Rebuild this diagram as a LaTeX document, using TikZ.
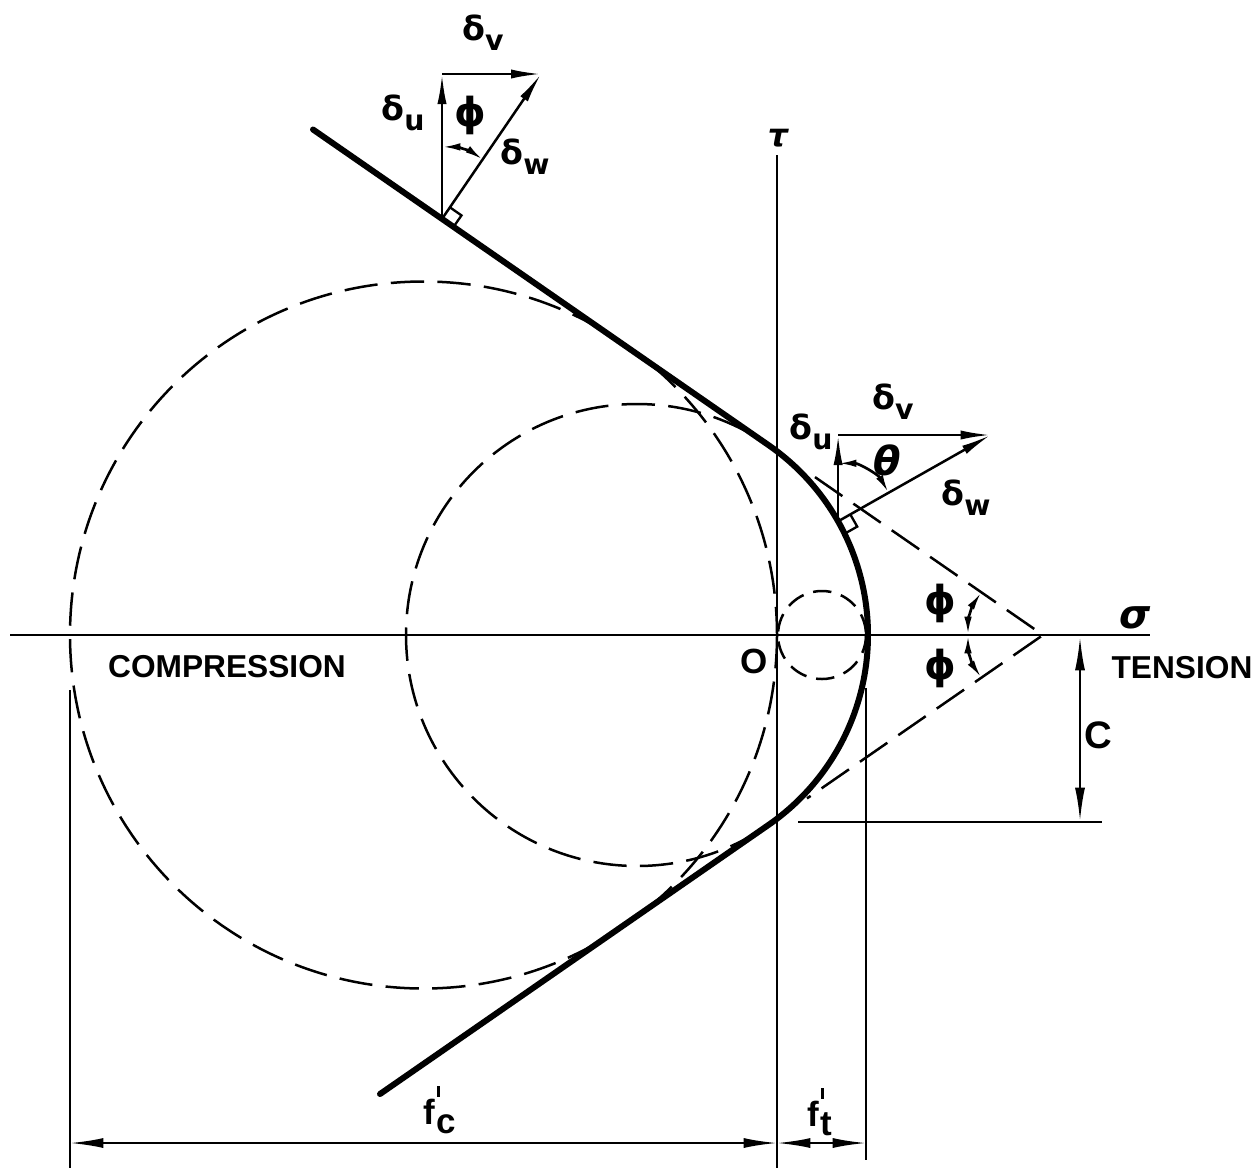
\documentclass[tikz,border=0pt]{standalone}
\usepackage{fontspec}
\setmainfont{Liberation Sans}
\newfontfamily\gk{DejaVu Sans}
\usetikzlibrary{arrows.meta,calc}
\newcommand\subl[1]{\raisebox{-0.3em}{\bfseries\fontsize{17}{17}\selectfont #1}}
\newcommand\primed[2]{#1\kern1pt\rlap{\raisebox{0.8em}{\rule{1.8pt}{6.5pt}}}\raisebox{-0.25em}{#2}}
\begin{document}
\begin{tikzpicture}[x=0.6pt,y=-0.6pt,
  env/.style={line width=3.6pt, line cap=round},
  ax/.style={line width=1.6pt},
  dsh/.style={line width=1.5pt, dash pattern=on 20pt off 8pt},
  dshs/.style={line width=1.5pt, dash pattern=on 11pt off 6pt},
  vec/.style={line width=1.5pt, -{Latex[length=18pt,width=5.5pt]}},
  dimarr/.style={line width=1.3pt, {Latex[length=20pt,width=6pt]}-{Latex[length=20pt,width=6pt]}},
  angarr/.style={line width=1.6pt, {Latex[length=11pt,width=4.5pt]}-{Latex[length=11pt,width=4.5pt]}},
  word/.style={font=\bfseries\fontsize{19}{19}\selectfont, inner sep=0pt},
  dl/.style={font=\gk\bfseries\fontsize{20}{20}\selectfont, inner sep=0pt},
  gl/.style={font=\gk\bfseries\fontsize{24}{24}\selectfont, inner sep=0pt}
]
\useasboundingbox (0,0) rectangle (1260,1173);
% key points
\coordinate (O) at (777,635);
\coordinate (V) at (1043,635);
\coordinate (CL) at (423.5,635);
\coordinate (CM) at (637,635);
\coordinate (CS) at (822,635);
\coordinate (A1) at (313,129.5);
\coordinate (T1) at (768.5,445.1);
\coordinate (A2) at (380,1094);
% axes
\coordinate (sx0) at (10,635);
\coordinate (sx1) at (1150,635);
\coordinate (tx0) at (777,155);
\coordinate (tx1) at (777,1168);
\draw[ax] (sx0) -- (sx1);
\draw[ax] (tx0) -- (tx1);
% dashed circles
\draw[dsh] (CL) circle[radius=353.5];
\draw[dsh] (CM) circle[radius=231];
\draw[dshs] (CS) circle[radius=44];
% dashed lines to V
\coordinate (D1) at (815,477.1);
\coordinate (D2) at (807,798.4);
\draw[dsh] (D1) -- (V) -- (D2);
% envelope
\draw[env] (A1) -- (T1) arc[start angle=-55.3, end angle=55.3, radius=231] -- (A2);
% C dimension
\coordinate (H0) at (798,822);
\coordinate (H1) at (1102,822);
\coordinate (C0) at (1080,637);
\coordinate (C1) at (1080,821);
\draw[ax] (H0) -- (H1);
\draw[dimarr] (C0) -- (C1);
% bottom dimensions
\coordinate (E0) at (70,690);
\coordinate (E1) at (70,1168);
\coordinate (F0) at (866,688);
\coordinate (F1) at (866,1160);
\draw[ax] (E0) -- (E1);
\draw[ax] (F0) -- (F1);
\coordinate (B0) at (70,1143);
\coordinate (B1) at (777,1143);
\coordinate (B2) at (866,1143);
\draw[dimarr] (B0) -- (B1);
\draw[dimarr] (B1) -- (B2);
% top vector diagram
\coordinate (P1) at (442,218.9);
\coordinate (Q1) at (442,74);
\coordinate (R1) at (541,74);
\draw[vec] (P1) -- (Q1);
\draw[vec] (Q1) -- (R1);
\draw[vec] (P1) -- (R1);
\draw[line width=1.4pt] ($(P1)+(8,-11.5)$) -- ++(11.5,8) -- ++(-8,11.5);
\draw[angarr] ($(P1)+(0,-72)$) arc[start angle=-90, end angle=-55.3, radius=72];
% second vector diagram
\coordinate (P2) at (838.1,521.3);
\coordinate (Q2) at (838.1,435);
\coordinate (R2) at (990.6,435);
\draw[vec] (P2) -- (Q2);
\draw[vec] (Q2) -- (R2);
\draw[vec] (P2) -- (R2);
\draw[line width=1.4pt] ($(P2)+(12.2,-6.9)$) -- ++(6.9,12.2) -- ++(-12.2,6.9);
\draw[angarr] ($(P2)+(0,-58)$) arc[start angle=-90, end angle=-29.5, radius=58];
% phi arcs at V
\draw[angarr] ($(V)+(-75,0)$) arc[start angle=180, end angle=214.7, radius=75];
\draw[angarr] ($(V)+(-75,0)$) arc[start angle=180, end angle=145.3, radius=75];
% labels
\node[font=\gk\itshape\bfseries\fontsize{19}{19}\selectfont, inner sep=0pt] (tau) at (778,138) {τ};
\node[font=\gk\itshape\bfseries\fontsize{24}{24}\selectfont, inner sep=0pt] (sig) at (1135,618) {σ};
\node[word] (comp) at (227,667) {COMPRESSION};
\node[word] (tens) at (1182,668) {TENSION};
\node[word, font=\bfseries\fontsize{21}{21}\selectfont] (olab) at (754,661) {O};
\node[word, font=\bfseries\fontsize{23}{23}\selectfont] (clab) at (1098,735) {C};
\node[dl] (dv1) at (483,33) {δ\subl{v}};
\node[dl] (du1) at (403,113) {δ\subl{u}};
\node[dl] (dw1) at (525,157) {δ\subl{w}};
\node[gl] (ph1) at (470,115) {ϕ};
\node[dl] (dv2) at (893,402) {δ\subl{v}};
\node[dl] (du2) at (811,432) {δ\subl{u}};
\node[dl] (dw2) at (966,498) {δ\subl{w}};
\node[gl, font=\gk\itshape\bfseries\fontsize{24}{24}\selectfont] (th) at (887,460) {θ};
\node[gl] (ph2) at (940,603) {ϕ};
\node[gl] (ph3) at (940,668) {ϕ};
\node[word, font=\bfseries\fontsize{21}{21}\selectfont] (fc) at (440,1110) {\primed{f}{c}};
\node[word, font=\bfseries\fontsize{21}{21}\selectfont] (ft) at (820,1112) {\primed{f}{t}};
\end{tikzpicture}
\end{document}
